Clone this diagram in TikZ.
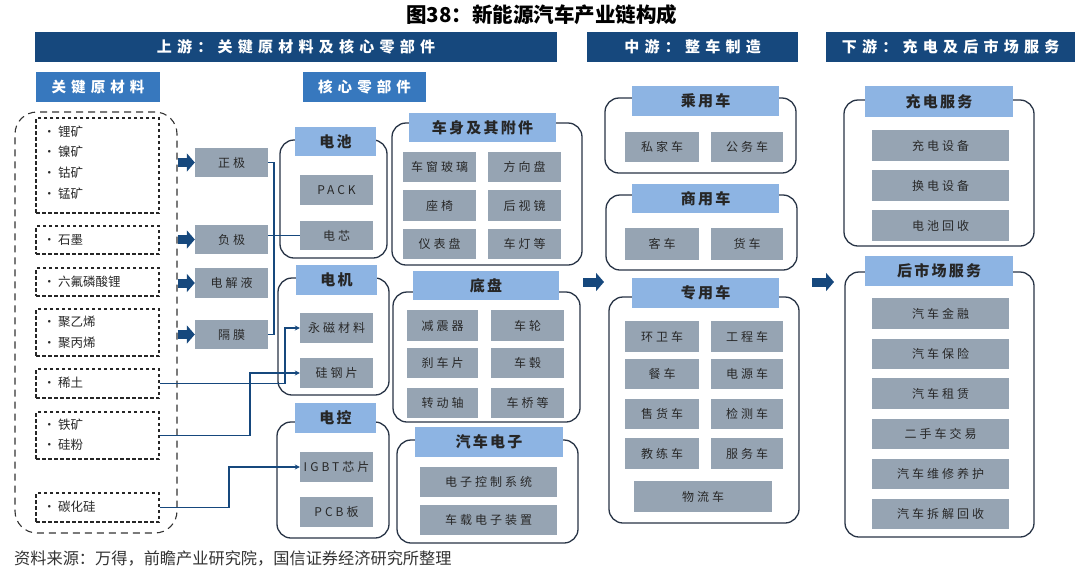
\documentclass[tikz,border=0pt]{standalone}
\usepackage{fontspec}
\setmainfont{Noto Sans CJK SC}
\newfontfamily\spA[LetterSpace=25]{Noto Sans CJK SC}
\newfontfamily\spB[LetterSpace=15]{Noto Sans CJK SC}
\newfontfamily\spC[LetterSpace=35]{Noto Sans CJK SC}
\usetikzlibrary{arrows.meta,calc}
\definecolor{dkblue}{RGB}{22,72,125}
\definecolor{mdblue}{RGB}{55,120,190}
\definecolor{ltblue}{RGB}{141,180,227}
\definecolor{grayc}{RGB}{150,164,179}
\definecolor{outl}{RGB}{40,52,70}
\definecolor{txtc}{RGB}{40,40,40}
\newcommand\bx[7]{\node[#1, minimum width={#5-#3}, minimum height={#6-#4}] (#2) at ({(#3+#5)/2},{(#4+#6)/2}) {#7};}
\begin{document}
\begin{tikzpicture}[x=1pt,y=-1pt,
  bar/.style={fill=dkblue, inner sep=0, text=white, font=\spC\bfseries\fontsize{15}{17}\selectfont},
  sub/.style={fill=mdblue, inner sep=0, text=white, font=\spC\bfseries\fontsize{14.5}{16}\selectfont},
  hdr/.style={fill=ltblue, inner sep=0, text=black!85, font=\spB\bfseries\fontsize{15}{17}\selectfont},
  gb/.style={fill=grayc, inner sep=0, text=txtc, font=\spA\fontsize{12}{14}\selectfont},
  cont/.style={draw=outl, line width=1.3pt, rounded corners=14pt, inner sep=0},
  dbox/.style={draw=black!85, line width=1.1pt, dash pattern=on 3.5pt off 2.5pt, inner sep=0},
  obox/.style={draw=black!80, line width=1.1pt, dash pattern=on 7pt off 5pt, rounded corners=22pt, inner sep=0},
  itm/.style={anchor=west, inner sep=0, text=txtc, font=\fontsize{12.5}{14}\selectfont},
  conn/.style={draw=dkblue, line width=1.2pt},
  carr/.style={conn, -{Stealth[length=5pt,width=5pt]}},
  barrow/.style={draw=dkblue, line width=9pt, -{Triangle[length=8pt,width=18pt]}}]
\fill[white] (0,0) rectangle (1080,574);
\useasboundingbox (0,0) rectangle (1080,574);
% title
\node[anchor=west, inner sep=0, font=\bfseries\fontsize{20.5}{23}\selectfont] (title) at (406,15) {图38：新能源汽车产业链构成};
% bars
\bx{bar}{barU}{35}{32}{557}{62}{上游：关键原材料及核心零部件}
\bx{bar}{barM}{587}{32}{798}{62}{中游：整车制造}
\bx{bar}{barD}{826}{32}{1075}{62}{下游：充电及后市场服务}
\bx{sub}{subA}{36}{72}{160}{102}{关键原材料}
\bx{sub}{subB}{303}{72}{426}{102}{核心零部件}
% raw materials
\bx{obox}{ob}{15}{112}{177}{533}{}
\bx{dbox}{d1}{36}{118}{159}{213}{}
\bx{dbox}{d2}{36}{226}{159}{254}{}
\bx{dbox}{d3}{36}{268}{159}{296}{}
\bx{dbox}{d4}{36}{309}{159}{356}{}
\bx{dbox}{d5}{36}{369}{159}{398}{}
\bx{dbox}{d6}{36}{412}{159}{459}{}
\bx{dbox}{d7}{36}{493}{159}{522}{}
\node[itm] (i1) at (43,132) {\makebox[15pt][l]{•}锂矿};
\node[itm] (i2) at (43,152) {\makebox[15pt][l]{•}镍矿};
\node[itm] (i3) at (43,173) {\makebox[15pt][l]{•}钴矿};
\node[itm] (i4) at (43,194) {\makebox[15pt][l]{•}锰矿};
\node[itm] (i5) at (43,240) {\makebox[15pt][l]{•}石墨};
\node[itm] (i6) at (43,282) {\makebox[15pt][l]{•}六氟磷酸锂};
\node[itm] (i7) at (43,322) {\makebox[15pt][l]{•}聚乙烯};
\node[itm] (i8) at (43,343) {\makebox[15pt][l]{•}聚丙烯};
\node[itm] (i9) at (43,383) {\makebox[15pt][l]{•}稀土};
\node[itm] (i10) at (43,425) {\makebox[15pt][l]{•}铁矿};
\node[itm] (i11) at (43,445) {\makebox[15pt][l]{•}硅粉};
\node[itm] (i12) at (43,507) {\makebox[15pt][l]{•}碳化硅};
% battery materials
\bx{gb}{zj}{195}{148}{268}{177}{正极}
\bx{gb}{fj}{195}{225}{268}{254}{负极}
\bx{gb}{dj}{195}{268}{268}{298}{电解液}
\bx{gb}{gm}{195}{320}{268}{349}{隔膜}
\draw[barrow] (ob.east |- zj.west) -- (zj.west);
\draw[barrow] (ob.east |- fj.west) -- (fj.west);
\draw[barrow] (ob.east |- dj.west) -- (dj.west);
\draw[barrow] (ob.east |- gm.west) -- (gm.west);
% core components containers
\bx{cont}{cBat}{280}{140}{387}{258}{}
\bx{cont}{cBody}{392}{123}{582}{265}{}
\bx{cont}{cMot}{278}{278}{389}{395}{}
\bx{cont}{cChs}{393}{292}{580}{422}{}
\bx{cont}{cCtl}{277}{422}{389}{538}{}
\bx{cont}{cEle}{397}{440}{578}{543}{}
\bx{hdr}{hBat}{295}{127}{376}{156}{电池}
\bx{hdr}{hBody}{409}{113}{556}{142}{车身及其附件}
\bx{hdr}{hMot}{296}{265}{377}{295}{电机}
\bx{hdr}{hChs}{413}{271}{559}{300}{底盘}
\bx{hdr}{hCtl}{295}{403}{376}{433}{电控}
\bx{hdr}{hEle}{415}{427}{563}{457}{汽车电子}
\bx{gb}{pk}{300}{175}{373}{205}{PACK}
\bx{gb}{dx}{300}{221}{373}{250}{电芯}
\bx{gb}{b1}{403}{152}{476}{182}{车窗玻璃}
\bx{gb}{b2}{488}{152}{561}{182}{方向盘}
\bx{gb}{b3}{403}{190}{476}{221}{座椅}
\bx{gb}{b4}{488}{190}{561}{221}{后视镜}
\bx{gb}{b5}{403}{229}{476}{259}{仪表盘}
\bx{gb}{b6}{488}{229}{561}{259}{车灯等}
\bx{gb}{ym}{300}{313}{373}{343}{永磁材料}
\bx{gb}{gg}{300}{358}{373}{388}{硅钢片}
\bx{gb}{c1}{407}{310}{478}{341}{减震器}
\bx{gb}{c2}{491}{310}{564}{341}{车轮}
\bx{gb}{c3}{407}{348}{478}{378}{刹车片}
\bx{gb}{c4}{491}{348}{564}{378}{车毂}
\bx{gb}{c5}{407}{388}{478}{418}{转动轴}
\bx{gb}{c6}{491}{388}{564}{418}{车桥等}
\bx{gb}{ig}{300}{452}{373}{482}{IGBT芯片}
\bx{gb}{pcb}{300}{497}{373}{527}{PCB板}
\bx{gb}{e1}{420}{467}{557}{497}{电子控制系统}
\bx{gb}{e2}{420}{505}{557}{535}{车载电子装置}
% connectors
\coordinate (kb) at (274,0);
\coordinate (k1) at (285,0);
\coordinate (k2) at (250,0);
\coordinate (k3) at (229,0);
\draw[conn] (zj.east) -- (kb |- zj.east) |- (gm.east);
\draw[conn] (fj.east |- dx.west) -- (dx.west);
\draw[carr] (d5.east) -| (k1 |- ym.west) -- (ym.west);
\draw[carr] (d6.east) -| (k2 |- gg.west) -- (gg.west);
\draw[carr] (d7.east) -| (k3 |- ig.west) -- (ig.west);
% midstream
\bx{cont}{cPas}{605}{98}{796}{173}{}
\bx{cont}{cCom}{606}{195}{797}{270}{}
\bx{cont}{cSpe}{609}{297}{799}{523}{}
\bx{hdr}{hPas}{632}{86}{779}{116}{乘用车}
\bx{hdr}{hCom}{632}{184}{779}{213}{商用车}
\bx{hdr}{hSpe}{632}{278}{779}{308}{专用车}
\bx{gb}{p1}{625}{132}{699}{162}{私家车}
\bx{gb}{p2}{711}{132}{783}{162}{公务车}
\bx{gb}{q1}{625}{228}{699}{260}{客车}
\bx{gb}{q2}{711}{228}{783}{260}{货车}
\bx{gb}{s1}{625}{321}{699}{352}{环卫车}
\bx{gb}{s2}{711}{321}{783}{352}{工程车}
\bx{gb}{s3}{625}{359}{699}{389}{餐车}
\bx{gb}{s4}{711}{359}{783}{389}{电源车}
\bx{gb}{s5}{625}{399}{699}{429}{售货车}
\bx{gb}{s6}{711}{399}{783}{429}{检测车}
\bx{gb}{s7}{625}{438}{699}{469}{教练车}
\bx{gb}{s8}{711}{438}{783}{469}{服务车}
\bx{gb}{s9}{634}{481}{772}{512}{物流车}
\coordinate (m1s) at (583,282);
\coordinate (m1e) at (604,282);
\coordinate (m2s) at (812,282);
\coordinate (m2e) at (834,282);
\draw[barrow] (m1s) -- (m1e);
\draw[barrow] (m2s) -- (m2e);
% downstream
\bx{cont}{cChg}{844}{100}{1034}{246}{}
\bx{cont}{cAft}{845}{272}{1034}{537}{}
\bx{hdr}{hChg}{865}{86}{1013}{117}{充电服务}
\bx{hdr}{hAft}{865}{256}{1013}{286}{后市场服务}
\bx{gb}{r1}{872}{130}{1009}{161}{充电设备}
\bx{gb}{r2}{872}{170}{1009}{201}{换电设备}
\bx{gb}{r3}{872}{210}{1009}{241}{电池回收}
\bx{gb}{a1}{872}{298}{1009}{329}{汽车金融}
\bx{gb}{a2}{872}{339}{1009}{369}{汽车保险}
\bx{gb}{a3}{872}{378}{1009}{409}{汽车租赁}
\bx{gb}{a4}{872}{419}{1009}{449}{二手车交易}
\bx{gb}{a5}{872}{459}{1009}{489}{汽车维修养护}
\bx{gb}{a6}{872}{499}{1009}{529}{汽车拆解回收}
% footer
\node[anchor=west, inner sep=0, text=black!80, font=\fontsize{16.2}{18}\selectfont] (src) at (14,558) {资料来源：万得，前瞻产业研究院，国信证券经济研究所整理};
\end{tikzpicture}
\end{document}
